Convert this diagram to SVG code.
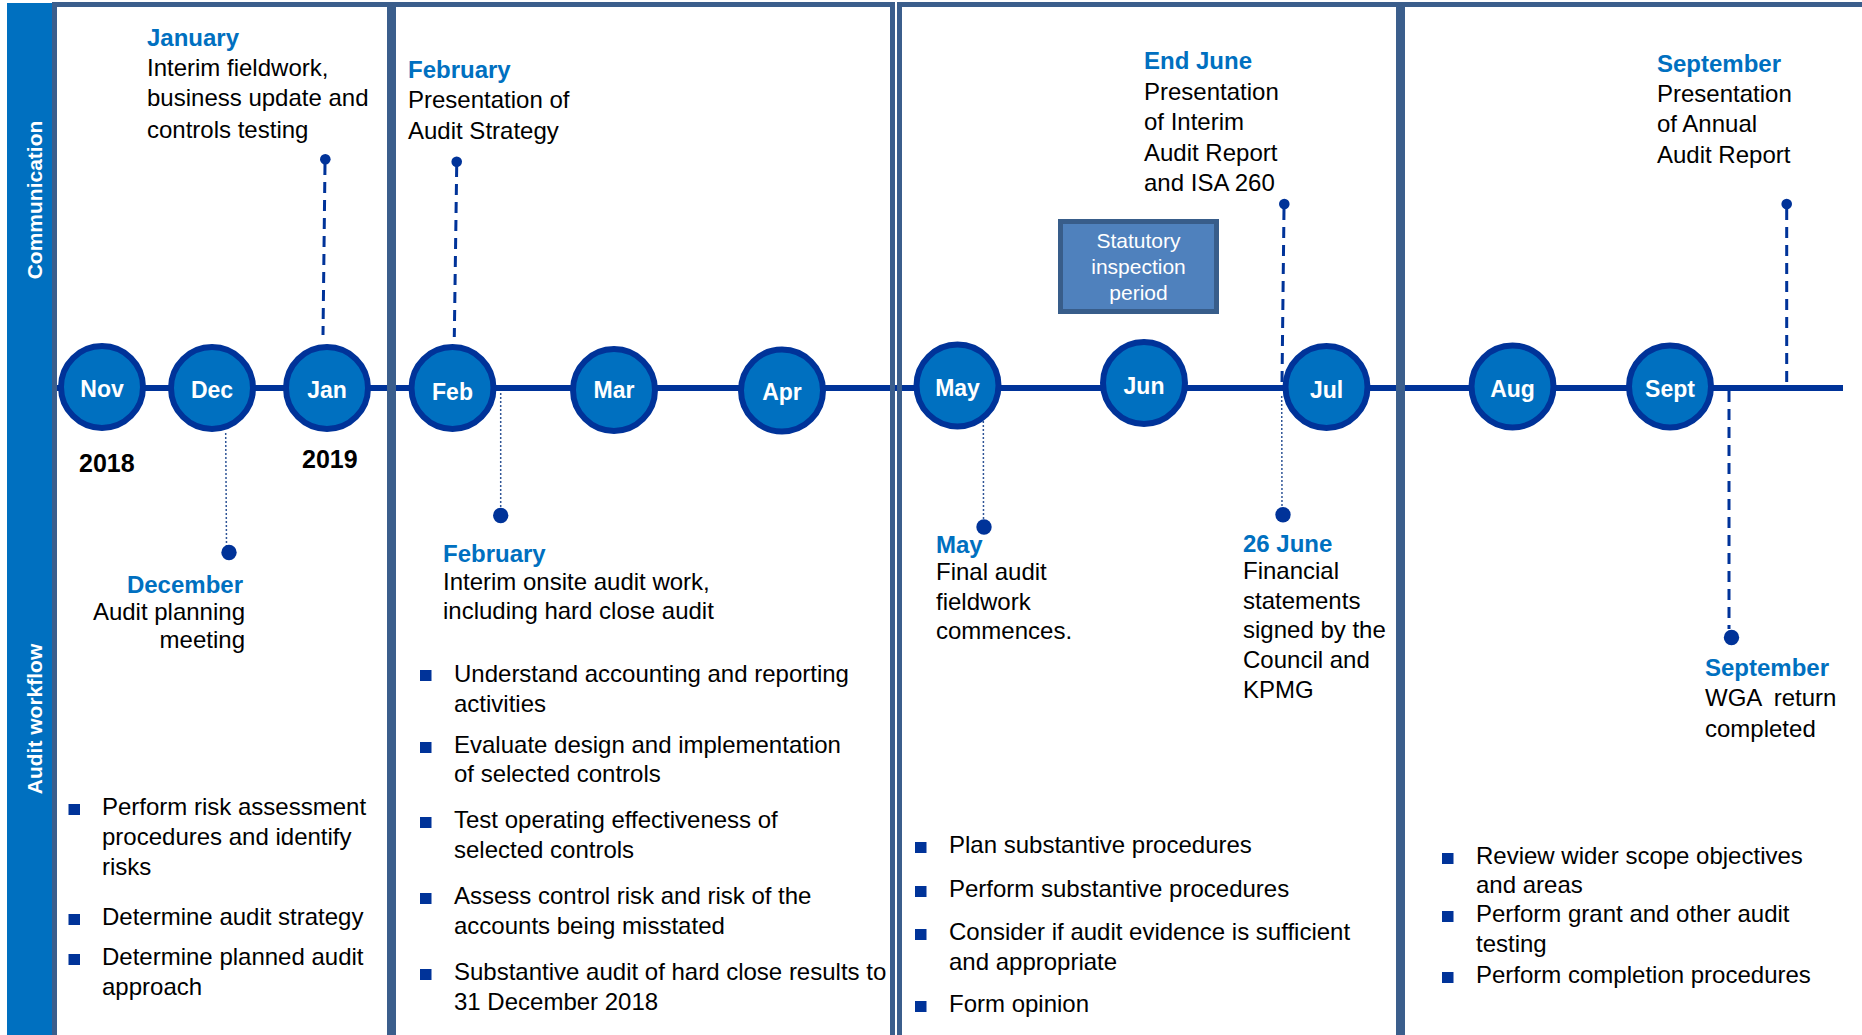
<svg xmlns="http://www.w3.org/2000/svg" width="1862" height="1035" viewBox="0 0 1862 1035">
<style>
text{font-family:"Liberation Sans",Arial,sans-serif}
.hd{font-size:24px;font-weight:bold;fill:#0070C0}
.tx{font-size:24px;fill:#000}
.mo{font-size:23px;font-weight:bold;fill:#fff;text-anchor:middle}
.yr{font-size:25px;font-weight:bold;fill:#000}
.band{font-weight:bold;fill:#fff;text-anchor:middle;font-size:21px}
.bul{fill:#003399}
.circ{fill:#0070C0;stroke:#003399;stroke-width:6}
.pan{fill:none;stroke:#3B5E8C;stroke-width:5}
.dash{stroke:#003399;stroke-width:3;stroke-dasharray:11 7;fill:none}
.dot{stroke:#2F5597;stroke-width:1.5;stroke-dasharray:2 2;fill:none}
.pin{fill:#003399}
.stat{fill:#fff;font-size:21px;text-anchor:middle}
</style>
<rect width="1862" height="1035" fill="#fff"/>

<g id="band-communication">
<rect x="7" y="3" width="45" height="382" fill="#0070C0"/>
<text class="band" transform="translate(42,200) rotate(-90)">Communication</text>
</g>
<g id="band-audit-workflow">
<rect x="7" y="385" width="45" height="660" fill="#0070C0"/>
<text class="band" transform="translate(42,719) rotate(-90)">Audit workflow</text>
</g>

<g id="timeline">
<line x1="57" y1="388" x2="1843" y2="388" stroke="#003399" stroke-width="6"/>
</g>

<g id="panels">
<rect id="panel-1" class="pan" x="54.5" y="4.5" width="335" height="1050"/>
<rect id="panel-2" class="pan" x="393.5" y="4.5" width="499" height="1050"/>
<rect id="panel-3" class="pan" x="899.5" y="4.5" width="499" height="1050"/>
<rect id="panel-4" class="pan" x="1402.5" y="4.5" width="500" height="1050"/>
</g>

<g id="connectors">
<line class="dash" x1="325" y1="164" x2="323" y2="335"/>
<circle class="pin" cx="325.3" cy="159.3" r="5.3"/>
<line class="dash" x1="456.7" y1="166" x2="454.3" y2="337"/>
<circle class="pin" cx="456.7" cy="161.7" r="5.3"/>
<line class="dash" x1="1284" y1="209" x2="1282" y2="382"/>
<circle class="pin" cx="1284.3" cy="204" r="5.3"/>
<line class="dash" x1="1786.7" y1="209" x2="1786.7" y2="383"/>
<circle class="pin" cx="1786.7" cy="204" r="5.3"/>
<line class="dash" x1="1729" y1="391" x2="1729" y2="629"/>
<circle class="pin" cx="1731.5" cy="637.5" r="7.7"/>
<line class="dot" x1="225.7" y1="433" x2="226.5" y2="546"/>
<circle class="pin" cx="229" cy="552.5" r="7.7"/>
<line class="dot" x1="500.7" y1="393" x2="500.7" y2="509"/>
<circle class="pin" cx="500.7" cy="515.5" r="7.7"/>
<line class="dot" x1="983.3" y1="405" x2="983.5" y2="520"/>
<circle class="pin" cx="984" cy="527" r="7.7"/>
<line class="dot" x1="1281.7" y1="396" x2="1282" y2="508"/>
<circle class="pin" cx="1283" cy="514.7" r="7.7"/>
</g>

<g id="month-nov"><circle class="circ" cx="102" cy="387" r="41"/><text class="mo" x="102" y="397">Nov</text></g>
<g id="month-dec"><circle class="circ" cx="212" cy="388" r="41"/><text class="mo" x="212" y="398">Dec</text></g>
<g id="month-jan"><circle class="circ" cx="327" cy="388" r="41"/><text class="mo" x="327" y="398">Jan</text></g>
<g id="month-feb"><circle class="circ" cx="452.5" cy="388" r="41"/><text class="mo" x="452.5" y="400">Feb</text></g>
<g id="month-mar"><circle class="circ" cx="614" cy="390" r="41"/><text class="mo" x="614" y="398">Mar</text></g>
<g id="month-apr"><circle class="circ" cx="782" cy="390.5" r="41"/><text class="mo" x="782" y="400">Apr</text></g>
<g id="month-may"><circle class="circ" cx="957.5" cy="385.5" r="41"/><text class="mo" x="957.5" y="396">May</text></g>
<g id="month-jun"><circle class="circ" cx="1144" cy="383" r="41"/><text class="mo" x="1144" y="394">Jun</text></g>
<g id="month-jul"><circle class="circ" cx="1326.5" cy="387" r="41"/><text class="mo" x="1326.5" y="398">Jul</text></g>
<g id="month-aug"><circle class="circ" cx="1512.5" cy="386.5" r="41"/><text class="mo" x="1512.5" y="397">Aug</text></g>
<g id="month-sept"><circle class="circ" cx="1670" cy="386.5" r="41"/><text class="mo" x="1670" y="397">Sept</text></g>

<g id="year-2018"><text class="yr" x="79" y="472">2018</text></g>
<g id="year-2019"><text class="yr" x="302" y="468">2019</text></g>

<g id="statutory-inspection">
<rect x="1060.5" y="221.5" width="156" height="90" fill="#4F81BD" stroke="#385D8A" stroke-width="5"/>
<text class="stat" x="1138.5" y="248">Statutory</text>
<text class="stat" x="1138.5" y="274">inspection</text>
<text class="stat" x="1138.5" y="300">period</text>
</g>

<g id="note-january">
<text class="hd" x="147" y="46">January</text>
<text class="tx" x="147" y="76">Interim fieldwork,</text>
<text class="tx" x="147" y="106">business update and</text>
<text class="tx" x="147" y="138">controls testing</text>
</g>
<g id="note-february-top">
<text class="hd" x="408" y="78">February</text>
<text class="tx" x="408" y="108">Presentation of</text>
<text class="tx" x="408" y="139">Audit Strategy</text>
</g>
<g id="note-end-june">
<text class="hd" x="1144" y="69">End June</text>
<text class="tx" x="1144" y="100">Presentation</text>
<text class="tx" x="1144" y="130">of Interim</text>
<text class="tx" x="1144" y="161">Audit Report</text>
<text class="tx" x="1144" y="191">and ISA 260</text>
</g>
<g id="note-september-top">
<text class="hd" x="1657" y="72">September</text>
<text class="tx" x="1657" y="102">Presentation</text>
<text class="tx" x="1657" y="132">of Annual</text>
<text class="tx" x="1657" y="163">Audit Report</text>
</g>

<g id="note-december" text-anchor="end">
<text class="hd" x="243" y="593">December</text>
<text class="tx" x="245" y="620">Audit planning</text>
<text class="tx" x="245" y="648">meeting</text>
</g>
<g id="note-february-bottom">
<text class="hd" x="443" y="562">February</text>
<text class="tx" x="443" y="590">Interim onsite audit work,</text>
<text class="tx" x="443" y="619">including hard close audit</text>
</g>
<g id="note-may">
<text class="hd" x="936" y="553">May</text>
<text class="tx" x="936" y="580">Final audit</text>
<text class="tx" x="936" y="610">fieldwork</text>
<text class="tx" x="936" y="639">commences.</text>
</g>
<g id="note-26-june">
<text class="hd" x="1243" y="552">26 June</text>
<text class="tx" x="1243" y="579">Financial</text>
<text class="tx" x="1243" y="609">statements</text>
<text class="tx" x="1243" y="638">signed by the</text>
<text class="tx" x="1243" y="668">Council and</text>
<text class="tx" x="1243" y="698">KPMG</text>
</g>
<g id="note-september-bottom">
<text class="hd" x="1705" y="676">September</text>
<text class="tx" x="1705" y="706" word-spacing="6">WGA return</text>
<text class="tx" x="1705" y="737">completed</text>
</g>

<g id="bullets-panel-1">
<rect class="bul" x="68.5" y="804" width="11.5" height="11"/>
<text class="tx" x="102" y="815">Perform risk assessment</text>
<text class="tx" x="102" y="845">procedures and identify</text>
<text class="tx" x="102" y="875">risks</text>
<rect class="bul" x="68.5" y="914" width="11.5" height="11"/>
<text class="tx" x="102" y="925">Determine audit strategy</text>
<rect class="bul" x="68.5" y="954" width="11.5" height="11"/>
<text class="tx" x="102" y="965">Determine planned audit</text>
<text class="tx" x="102" y="995">approach</text>
</g>
<g id="bullets-panel-2">
<rect class="bul" x="420" y="670" width="11.5" height="11"/>
<text class="tx" x="454" y="682">Understand accounting and reporting</text>
<text class="tx" x="454" y="712">activities</text>
<rect class="bul" x="420" y="742" width="11.5" height="11"/>
<text class="tx" x="454" y="753">Evaluate design and implementation</text>
<text class="tx" x="454" y="782">of selected controls</text>
<rect class="bul" x="420" y="817" width="11.5" height="11"/>
<text class="tx" x="454" y="828">Test operating effectiveness of</text>
<text class="tx" x="454" y="858">selected controls</text>
<rect class="bul" x="420" y="893" width="11.5" height="11"/>
<text class="tx" x="454" y="904">Assess control risk and risk of the</text>
<text class="tx" x="454" y="934">accounts being misstated</text>
<rect class="bul" x="420" y="969" width="11.5" height="11"/>
<text class="tx" x="454" y="980">Substantive audit of hard close results to</text>
<text class="tx" x="454" y="1010">31 December 2018</text>
</g>
<g id="bullets-panel-3">
<rect class="bul" x="915" y="842" width="11.5" height="11"/>
<text class="tx" x="949" y="853">Plan substantive procedures</text>
<rect class="bul" x="915" y="886" width="11.5" height="11"/>
<text class="tx" x="949" y="897">Perform substantive procedures</text>
<rect class="bul" x="915" y="929" width="11.5" height="11"/>
<text class="tx" x="949" y="940">Consider if audit evidence is sufficient</text>
<text class="tx" x="949" y="970">and appropriate</text>
<rect class="bul" x="915" y="1001" width="11.5" height="11"/>
<text class="tx" x="949" y="1012">Form opinion</text>
</g>
<g id="bullets-panel-4">
<rect class="bul" x="1442" y="853" width="11.5" height="11"/>
<text class="tx" x="1476" y="864">Review wider scope objectives</text>
<text class="tx" x="1476" y="893">and areas</text>
<rect class="bul" x="1442" y="911" width="11.5" height="11"/>
<text class="tx" x="1476" y="922">Perform grant and other audit</text>
<text class="tx" x="1476" y="952">testing</text>
<rect class="bul" x="1442" y="972" width="11.5" height="11"/>
<text class="tx" x="1476" y="983">Perform completion procedures</text>
</g>
</svg>
